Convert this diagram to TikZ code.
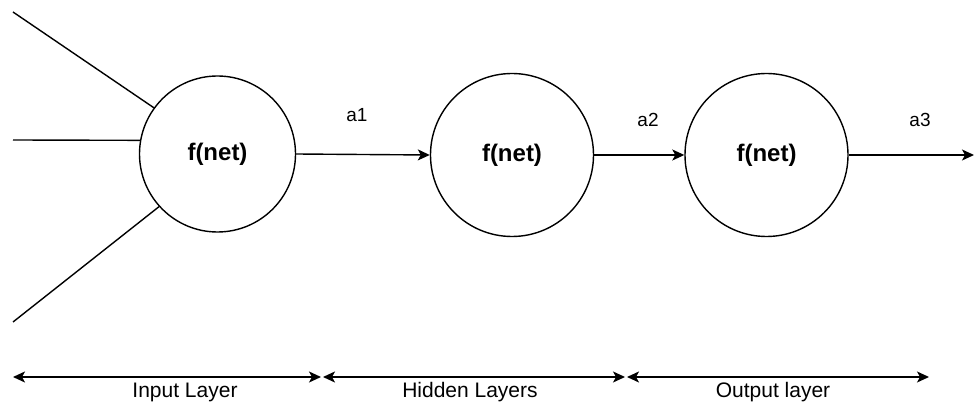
\documentclass[tikz,border=0pt]{standalone}
\usepackage{fontspec}
\setmainfont{Liberation Sans}
\usetikzlibrary{arrows.meta}
\begin{document}
\begin{tikzpicture}[x=1pt,y=-1pt,
  neuron/.style={circle,draw,line width=1.4pt,inner sep=0pt,font=\fontsize{24}{26}\selectfont\bfseries},
  wire/.style={line width=1.4pt},
  arr/.style={wire,-{Stealth[length=12pt,width=11pt,inset=3pt]}},
  span/.style={wire,{Stealth[length=12pt,width=11pt,inset=3pt]}-{Stealth[length=12pt,width=11pt,inset=3pt]}},
  lbl/.style={font=\fontsize{19}{21}\selectfont},
  layerlbl/.style={font=\fontsize{21}{23}\selectfont}]
\useasboundingbox (0,0) rectangle (978,406);
% neurons
\node[neuron,minimum size=156pt] (n1) at (217.5,154) {f(net)};
\node[neuron,minimum size=163pt] (n2) at (512,155) {f(net)};
\node[neuron,minimum size=163pt] (n3) at (766.5,155) {f(net)};
% inputs
\coordinate (i1) at (13,12);
\coordinate (i2) at (13,140);
\coordinate (i3) at (13,322);
\draw[wire] (i1) -- (n1.{144});
\draw[wire] (i2) -- (n1.{170.5});
\draw[wire] (i3) -- (n1.{-138});
% forward connections
\draw[arr] (n1.east) -- (n2.west);
\draw[arr] (n2.east) -- (n3.west);
\coordinate (out) at (974,155);
\draw[arr] (n3.east) -- (out);
\node[lbl] (a1) at (357,115) {a1};
\node[lbl] (a2) at (648,120) {a2};
\node[lbl] (a3) at (920,120) {a3};
% layer spans
\coordinate (s0) at (13,377);
\coordinate (s1) at (321,377);
\coordinate (s2) at (323,377);
\coordinate (s3) at (625,377);
\coordinate (s4) at (627,377);
\coordinate (s5) at (929,377);
\draw[span] (s0) -- (s1);
\draw[span] (s2) -- (s3);
\draw[span] (s4) -- (s5);
\node[layerlbl] (l1) at (185,392) {Input Layer};
\node[layerlbl] (l2) at (470,392) {Hidden Layers};
\node[layerlbl] (l3) at (773,392) {Output layer};
\end{tikzpicture}
\end{document}
